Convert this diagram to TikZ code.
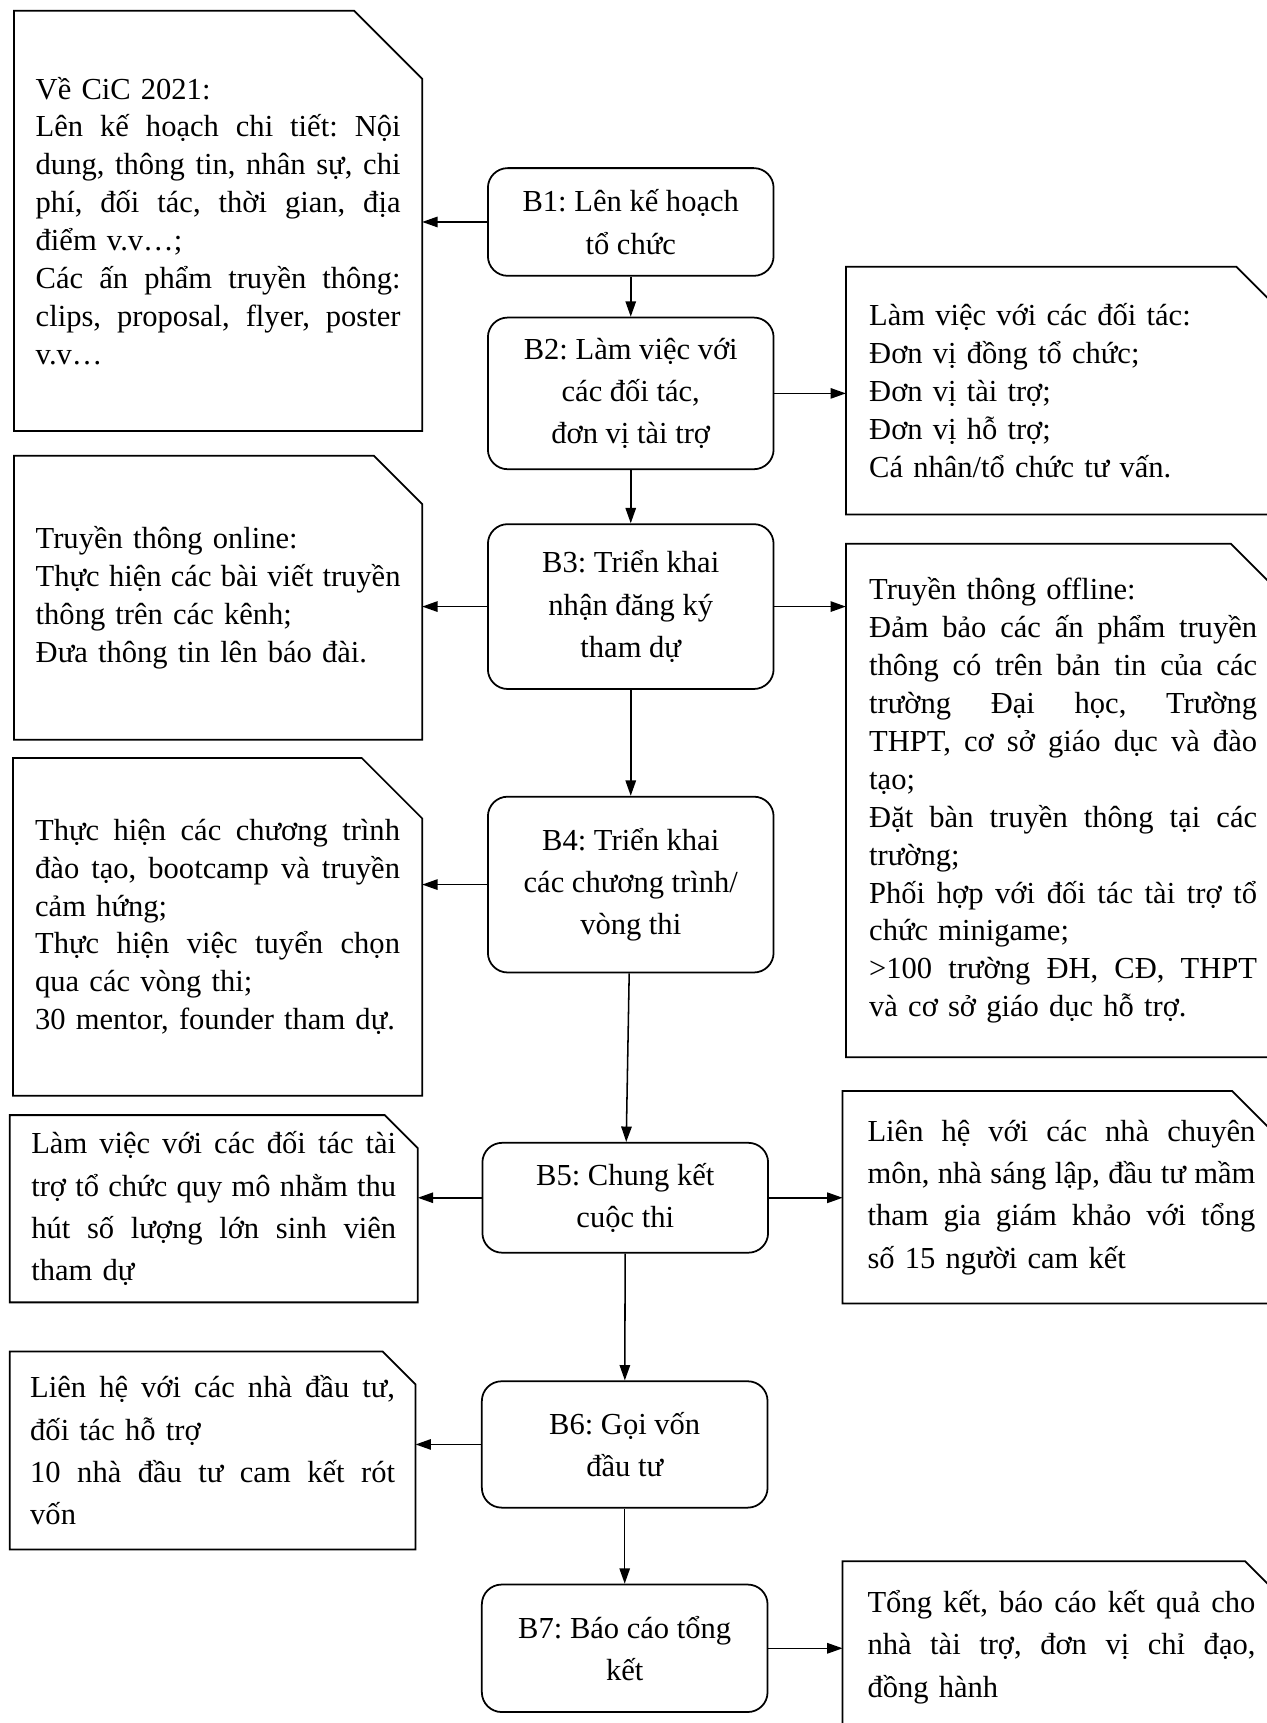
\documentclass[tikz,border=0pt]{standalone}
\usepackage{fontspec}
\setmainfont{Liberation Serif}
\usetikzlibrary{arrows.meta,calc}

\frenchspacing
\newdimen\jw
\newcommand\jl[1]{\noindent{\spaceskip=0.25em plus 1fil\relax\hbox to\jw{#1}}\\}
\newcommand\cutbox[2]{\draw[line width=1.6pt] (#1.south west) -- (#1.north west) -- ($(#1.north east)+(-#2,0)$) -- ($(#1.north east)+(0,#2)$) -- (#1.south east) -- cycle;}

\begin{document}
\begin{tikzpicture}[x=1pt,y=-1pt,
    stepbox/.style={draw, line width=1.6pt, rounded corners=18pt, inner sep=0pt,
        minimum width=260pt, align=center, font=\fontsize{27.8}{38.5}\selectfont},
    note/.style={inner sep=0pt, align=left, font=\fontsize{27.8}{34.5}\selectfont},
    wide/.style={font=\fontsize{27.8}{38.5}\selectfont},
    leftnote/.style={note, text width=332pt, execute at begin node={\jw=332pt\relax}},
    rightnote/.style={note, text width=353pt, execute at begin node={\jw=353pt\relax}},
    arr/.style={line width=1.4pt, -{Triangle[length=14pt,width=9.5pt]}}]
    \useasboundingbox (0,0) rectangle (1153,1568);
    \clip (0,0) rectangle (1153,1568);
    \fill[white] (0,0) rectangle (1153,1568);

    \node[stepbox, minimum height=98pt] (B1) at (574,202) {B1: Lên kế hoạch\\tổ chức};
    \node[stepbox, minimum height=138pt] (B2) at (574,358) {B2: Làm việc với\\các đối tác,\\đơn vị tài trợ};
    \node[stepbox, minimum height=150pt] (B3) at (574,552) {B3: Triển khai\\nhận đăng ký\\tham dự};
    \node[stepbox, minimum height=160pt] (B4) at (574,805) {B4: Triển khai\\các chương trình/\\vòng thi};
    \node[stepbox, minimum height=100pt] (B5) at (569,1090) {B5: Chung kết\\cuộc thi};
    \node[stepbox, minimum height=115pt] (B6) at (568.5,1314.5) {B6: Gọi vốn\\đầu tư};
    \node[stepbox, minimum height=116pt] (B7) at (568.5,1500) {B7: Báo cáo tổng\\kết};

    \node[leftnote, minimum width=371pt, minimum height=382pt] (L1) at (198.5,201) {
        Về CiC 2021:\\
        \jl{Lên kế hoạch chi tiết: Nội}
        \jl{dung, thông tin, nhân sự, chi}
        \jl{phí, đối tác, thời gian, địa}
        điểm v.v…;\\
        \jl{Các ấn phẩm truyền thông:}
        \jl{clips, proposal, flyer, poster}
        v.v…};
    \node[rightnote, minimum width=395pt, minimum height=225pt] (R2) at (967.5,355.5) {
        Làm việc với các đối tác:\\
        Đơn vị đồng tổ chức;\\
        Đơn vị tài trợ;\\
        Đơn vị hỗ trợ;\\
        Cá nhân/tổ chức tư vấn.};
    \node[leftnote, minimum width=371pt, minimum height=258pt] (L3) at (198.5,544) {
        Truyền thông online:\\
        \jl{Thực hiện các bài viết truyền}
        thông trên các kênh;\\
        Đưa thông tin lên báo đài.};
    \node[rightnote, minimum width=395pt, minimum height=467pt] (R3) at (967.5,728.5) {
        Truyền thông offline:\\
        \jl{Đảm bảo các ấn phẩm truyền}
        \jl{thông có trên bản tin của các}
        \jl{trường Đại học, Trường}
        \jl{THPT, cơ sở giáo dục và đào}
        tạo;\\
        \jl{Đặt bàn truyền thông tại các}
        trường;\\
        \jl{Phối hợp với đối tác tài trợ tổ}
        chức minigame;\\
        \jl{>100 trường ĐH, CĐ, THPT}
        và cơ sở giáo dục hỗ trợ.};
    \node[leftnote, minimum width=372pt, minimum height=307pt] (L4) at (198,843.5) {
        \jl{Thực hiện các chương trình}
        \jl{đào tạo, bootcamp và truyền}
        cảm hứng;\\
        \jl{Thực hiện việc tuyển chọn}
        qua các vòng thi;\\
        30 mentor, founder tham dự.};
    \node[leftnote, wide, minimum width=371pt, minimum height=170pt] (L5) at (194.5,1100) {
        \jl{Làm việc với các đối tác tài}
        \jl{trợ tổ chức quy mô nhằm thu}
        \jl{hút số lượng lớn sinh viên}
        tham dự};
    \node[rightnote, wide, minimum width=398pt, minimum height=193pt] (R5) at (966,1089.5) {
        \jl{Liên hệ với các nhà chuyên}
        \jl{môn, nhà sáng lập, đầu tư mầm}
        \jl{tham gia giám khảo với tổng}
        số 15 người cam kết};
    \node[leftnote, wide, minimum width=369pt, minimum height=180pt] (L6) at (193.5,1320) {
        \jl{Liên hệ với các nhà đầu tư,}
        đối tác hỗ trợ\\
        \jl{10 nhà đầu tư cam kết rót}
        vốn};
    \node[rightnote, wide, minimum width=398pt, minimum height=156pt] (R7) at (966,1499) {
        \jl{Tổng kết, báo cáo kết quả cho}
        \jl{nhà tài trợ, đơn vị chỉ đạo,}
        đồng hành};

    \cutbox{L1}{62}
    \cutbox{R2}{40}
    \cutbox{L3}{44}
    \cutbox{R3}{45}
    \cutbox{L4}{55}
    \cutbox{L5}{30}
    \cutbox{R5}{44}
    \cutbox{L6}{30}
    \cutbox{R7}{32}

    \draw[arr] (B1) -- (B2);
    \draw[arr] (B2) -- (B3);
    \draw[arr] (B3) -- (B4);
    \draw[arr] (B4) -- (B5);
    \draw[arr] (B5) -- (B6);
    \draw[arr] (B6) -- (B7);

    \draw[arr] (B1.west) -- (B1.west -| L1.east);
    \draw[arr] (B2.east) -- (B2.east -| R2.west);
    \draw[arr] (B3.west) -- (B3.west -| L3.east);
    \draw[arr] (B3.east) -- (B3.east -| R3.west);
    \draw[arr] (B4.west) -- (B4.west -| L4.east);
    \draw[arr] (B5.west) -- (B5.west -| L5.east);
    \draw[arr] (B5.east) -- (B5.east -| R5.west);
    \draw[arr] (B6.west) -- (B6.west -| L6.east);
    \draw[arr] (B7.east) -- (B7.east -| R7.west);
\end{tikzpicture}
\end{document}
